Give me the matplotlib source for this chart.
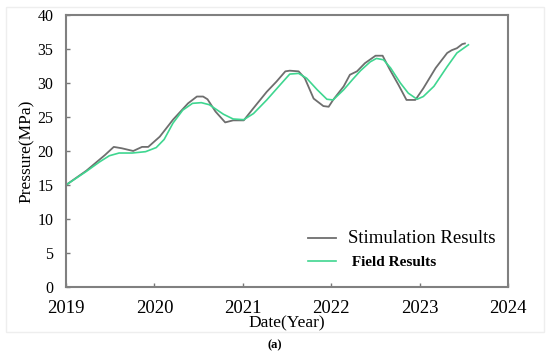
import matplotlib
matplotlib.use("Agg")
import matplotlib.pyplot as plt
from matplotlib.patches import Rectangle

# Simulated pressure
sim_year = [2019.00, 2019.23, 2019.44, 2019.54, 2019.63, 2019.76, 2019.86, 2019.93,
            2020.06, 2020.21, 2020.38, 2020.48, 2020.55, 2020.60, 2020.69, 2020.80,
            2020.89, 2021.01, 2021.12, 2021.27, 2021.38, 2021.48, 2021.53, 2021.63,
            2021.70, 2021.80, 2021.91, 2021.97, 2022.02, 2022.14, 2022.21, 2022.29,
            2022.38, 2022.50, 2022.58, 2022.66, 2022.76, 2022.85, 2022.95, 2023.04,
            2023.18, 2023.31, 2023.36, 2023.42, 2023.48, 2023.51]
sim_p = [15.0, 17.1, 19.4, 20.6, 20.4, 20.0, 20.6, 20.6,
         22.1, 24.6, 27.0, 28.0, 28.0, 27.6, 25.8, 24.2,
         24.5, 24.5, 26.3, 28.7, 30.2, 31.7, 31.8, 31.7,
         30.7, 27.7, 26.6, 26.5, 27.5, 29.5, 31.2, 31.7,
         32.9, 34.0, 34.0, 32.0, 29.7, 27.5, 27.5, 29.2,
         32.2, 34.4, 34.8, 35.1, 35.7, 35.8]

# Field pressure
field_year = [2019.00, 2019.23, 2019.38, 2019.49, 2019.60, 2019.75, 2019.90, 2020.02,
              2020.11, 2020.21, 2020.32, 2020.43, 2020.53, 2020.62, 2020.70, 2020.78,
              2020.89, 2021.01, 2021.12, 2021.27, 2021.42, 2021.53, 2021.63, 2021.72,
              2021.84, 2021.95, 2022.02, 2022.14, 2022.24, 2022.33, 2022.44, 2022.51,
              2022.59, 2022.67, 2022.78, 2022.87, 2022.97, 2023.04, 2023.16, 2023.31,
              2023.42, 2023.55]
field_p = [15.0, 17.0, 18.4, 19.3, 19.7, 19.7, 19.9, 20.5,
           21.7, 24.1, 26.0, 27.0, 27.1, 26.8, 26.1, 25.4,
           24.7, 24.6, 25.5, 27.5, 29.7, 31.3, 31.4, 30.7,
           29.0, 27.6, 27.5, 29.0, 30.5, 31.8, 33.1, 33.6,
           33.4, 32.2, 30.0, 28.5, 27.6, 28.0, 29.5, 32.4,
           34.4, 35.6]

x_ticks = [2019, 2020, 2021, 2022, 2023, 2024]
y_ticks = [0, 5, 10, 15, 20, 25, 30, 35, 40]

plt.rcParams["font.family"] = ["Liberation Serif", "DejaVu Serif"]

fig = plt.figure(figsize=(5.5, 3.54), dpi=100)
ax = fig.add_axes([0.12, 0.189, 0.804, 0.769])

# faint outer frame
fig.patches.append(Rectangle((0.011, 0.062), 0.978, 0.918, transform=fig.transFigure,
                             fill=False, edgecolor="#eeeeee", linewidth=1))

ax.plot(sim_year, sim_p, color="#6e6e6e", linewidth=1.3, label="Stimulation Results")
ax.plot(field_year, field_p, color="#3fd690", linewidth=1.2, label=" Field Results")

ax.set_xlim(2019, 2024)
ax.set_ylim(0, 40)
ax.set_xticks(x_ticks)
ax.set_yticks(y_ticks)
ax.set_xticklabels([str(t) for t in x_ticks], fontsize=13.5)
ax.set_yticklabels([str(t) for t in y_ticks], fontsize=11.5)
ax.tick_params(axis="both", direction="in", length=3, width=1, color="#777777")
ax.tick_params(axis="x", pad=9)
ax.tick_params(axis="y", pad=9)

for s in ax.spines.values():
    s.set_color("#808080")
    s.set_linewidth(1.5)

ax.set_xlabel("Date(Year)", fontsize=12.5)
ax.xaxis.set_label_coords(0.5, -0.105)
ax.set_ylabel("Pressure(MPa)", fontsize=12.5, labelpad=2)

leg = ax.legend(loc="lower right", bbox_to_anchor=(1.0, 0.02), frameon=False,
                handlelength=2.0, handletextpad=0.9, labelspacing=0.65)
leg.get_texts()[0].set_fontsize(13.5)
leg.get_texts()[1].set_fontsize(11)
leg.get_texts()[1].set_fontweight("bold")

fig.text(0.5, 0.025, "(a)", ha="center", va="center", fontsize=9, fontweight="bold")

fig.savefig("out.png", dpi=100)
